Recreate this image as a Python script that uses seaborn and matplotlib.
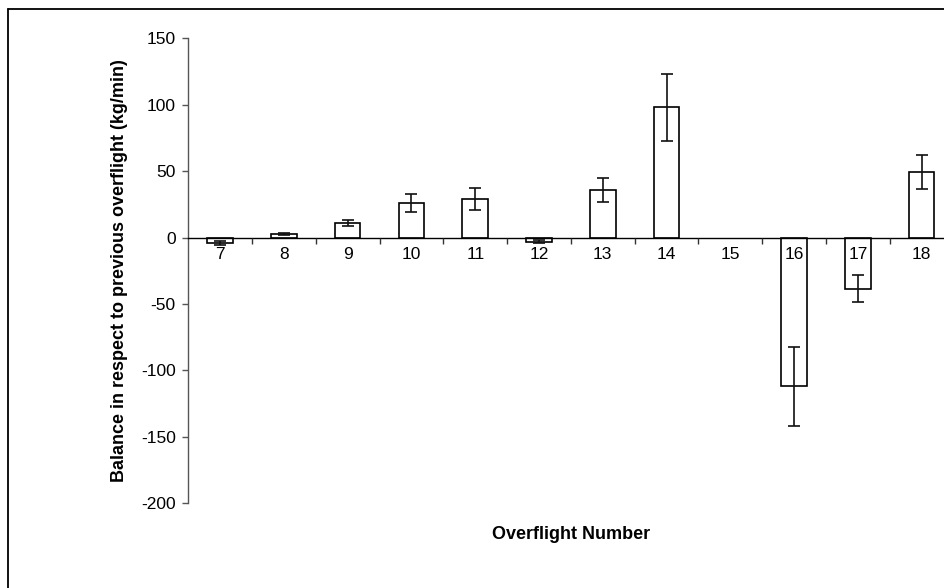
import numpy as np
import pandas as pd
import seaborn as sns
import matplotlib.pyplot as plt
from matplotlib.lines import Line2D
from matplotlib.ticker import FixedLocator

# Data
overflights = ["7", "8", "9", "10", "11", "12", "13", "14", "15", "16", "17", "18"]
balance = [-4, 2.5, 11, 26, 29, -3, 36, 98, np.nan, -112, -38.5, 49.5]
balance_err = [1.5, 0.7, 2.6, 7, 8, 1, 9, 25.5, np.nan, 29.5, 10, 12.6]
y_ticks = [150, 100, 50, 0, -50, -100, -150, -200]

sns.set_theme(style="white")
plt.rcParams["font.family"] = ["Liberation Sans", "DejaVu Sans"]
plt.rcParams["axes.unicode_minus"] = False
plt.rcParams["text.color"] = "black"
plt.rcParams["axes.labelcolor"] = "black"

df = pd.DataFrame({"flight": overflights, "balance": balance})

fig = plt.figure(figsize=(9.45, 5.88), dpi=100)
ax = fig.add_axes([188.3 / 945, 84.7 / 588, 765.2 / 945, 465 / 588])

sns.barplot(data=df, x="flight", y="balance", order=overflights, ax=ax,
            color="white", edgecolor="black", linewidth=1.2, width=0.4,
            errorbar=None, zorder=1)
ax.errorbar(np.arange(len(overflights)), balance, yerr=balance_err,
            fmt="none", ecolor="#111111", elinewidth=1.2, capsize=4, capthick=1.2,
            zorder=3)

ax.set_xlim(-0.5, len(overflights) - 0.5)
ax.set_ylim(-200, 150)
ax.set_yticks(y_ticks)

# zero line carries the category labels
ax.spines["bottom"].set_position(("data", 0))
ax.spines["bottom"].set_color("black")
ax.spines["bottom"].set_linewidth(1.0)
ax.spines["left"].set_color("#555555")
ax.spines["left"].set_linewidth(1.0)
ax.spines["top"].set_visible(False)
ax.spines["right"].set_visible(False)

ax.xaxis.set_minor_locator(FixedLocator(np.arange(0.5, len(overflights), 1.0)))
ax.tick_params(axis="x", which="major", length=0, pad=7, labelsize=12.5,
               labelcolor="black")
ax.tick_params(axis="x", which="minor", bottom=True, length=4, width=1.0,
               direction="out", color="#333333")
ax.tick_params(axis="y", left=True, length=4, width=1.0, direction="out",
               color="#555555", pad=5, labelsize=12.5, labelcolor="black")
ax.xaxis.set_zorder(5)

ax.set_xlabel("Overflight Number", fontsize=13, fontweight="bold")
ax.set_ylabel("Balance in respect to previous overflight (kg/min)",
              fontsize=13, fontweight="bold")
ax.xaxis.set_label_coords(0.5, -0.049)
ax.yaxis.set_label_coords(-0.079, 0.5)
ax.patch.set_alpha(0)

# chart-area border (top and left edges visible)
fig.add_artist(Line2D([8.3 / 945, 8.3 / 945], [-0.1, 1 - 9.3 / 588],
                      color="black", linewidth=1.3, transform=fig.transFigure))
fig.add_artist(Line2D([8.3 / 945, 1.1], [1 - 9.3 / 588, 1 - 9.3 / 588],
                      color="black", linewidth=1.3, transform=fig.transFigure))

fig.savefig("out.png", dpi=100)
